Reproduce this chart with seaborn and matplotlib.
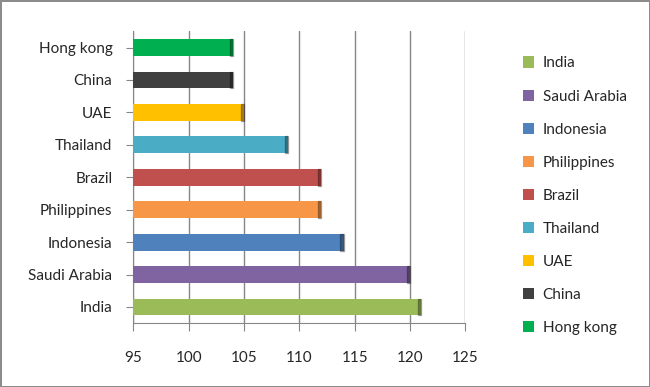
import pandas as pd
import seaborn as sns
import matplotlib.pyplot as plt
from matplotlib.patches import Patch

# 数据（从上到下：Hong kong 在最上面）
countries = ["Hong kong", "China", "UAE", "Thailand", "Brazil",
             "Philippines", "Indonesia", "Saudi Arabia", "India"]
values = [104, 104, 105, 109, 112, 112, 114, 120, 121]
colors = ["#00B050", "#404040", "#FFC000", "#4BACC6", "#C0504D",
          "#F79646", "#4F81BD", "#8064A2", "#9BBB59"]
x_ticks = [95, 100, 105, 110, 115, 120, 125]

sns.set_style("white")
plt.rcParams['font.family'] = ['Lato', 'DejaVu Sans']

df = pd.DataFrame({"country": countries, "value": values})

fig = plt.figure(figsize=(6.5, 3.87), dpi=100)
fig.patch.set_edgecolor("#8c8c8c")
fig.patch.set_linewidth(2)
ax = fig.add_axes([0.205, 0.165, 0.511, 0.754])

sns.barplot(data=df, x="value", y="country", hue="country", palette=colors,
            orient="h", width=0.52, legend=False, ax=ax, zorder=3,
            edgecolor="none", saturation=1)

# 简单的 3D 端面效果
for bar, c in zip(ax.patches, colors):
    bar.set_x(95)
    bar.set_width(bar.get_width() - 95)
    ax.add_patch(plt.Rectangle((bar.get_x() + bar.get_width() - 0.3, bar.get_y()),
                               0.3, bar.get_height(), color="black", alpha=0.3, zorder=4))

ax.set_xlim(95, 125)
ax.set_xticks(x_ticks)
ax.set_xlabel("")
ax.set_ylabel("")
ax.grid(axis="x", color="#868686", linewidth=1, zorder=0)
for s in ["top", "right"]:
    ax.spines[s].set_visible(False)
for s in ["left", "bottom"]:
    ax.spines[s].set_color("#868686")
ax.tick_params(axis="x", length=6, pad=14, color="#868686", labelsize=11, direction="out", bottom=True)
ax.tick_params(axis="y", length=5, pad=10, color="#868686", labelsize=11, direction="out", left=True)

handles = [Patch(facecolor=c, edgecolor="none", label=n)
           for n, c in zip(countries[::-1], colors[::-1])]
fig.legend(handles=handles, loc="upper left", bbox_to_anchor=(0.795, 0.87),
           frameon=False, fontsize=11, handlelength=0.75, handleheight=0.75,
           handletextpad=0.55, labelspacing=1.25, borderaxespad=0)

fig.savefig("out.png", dpi=100)
